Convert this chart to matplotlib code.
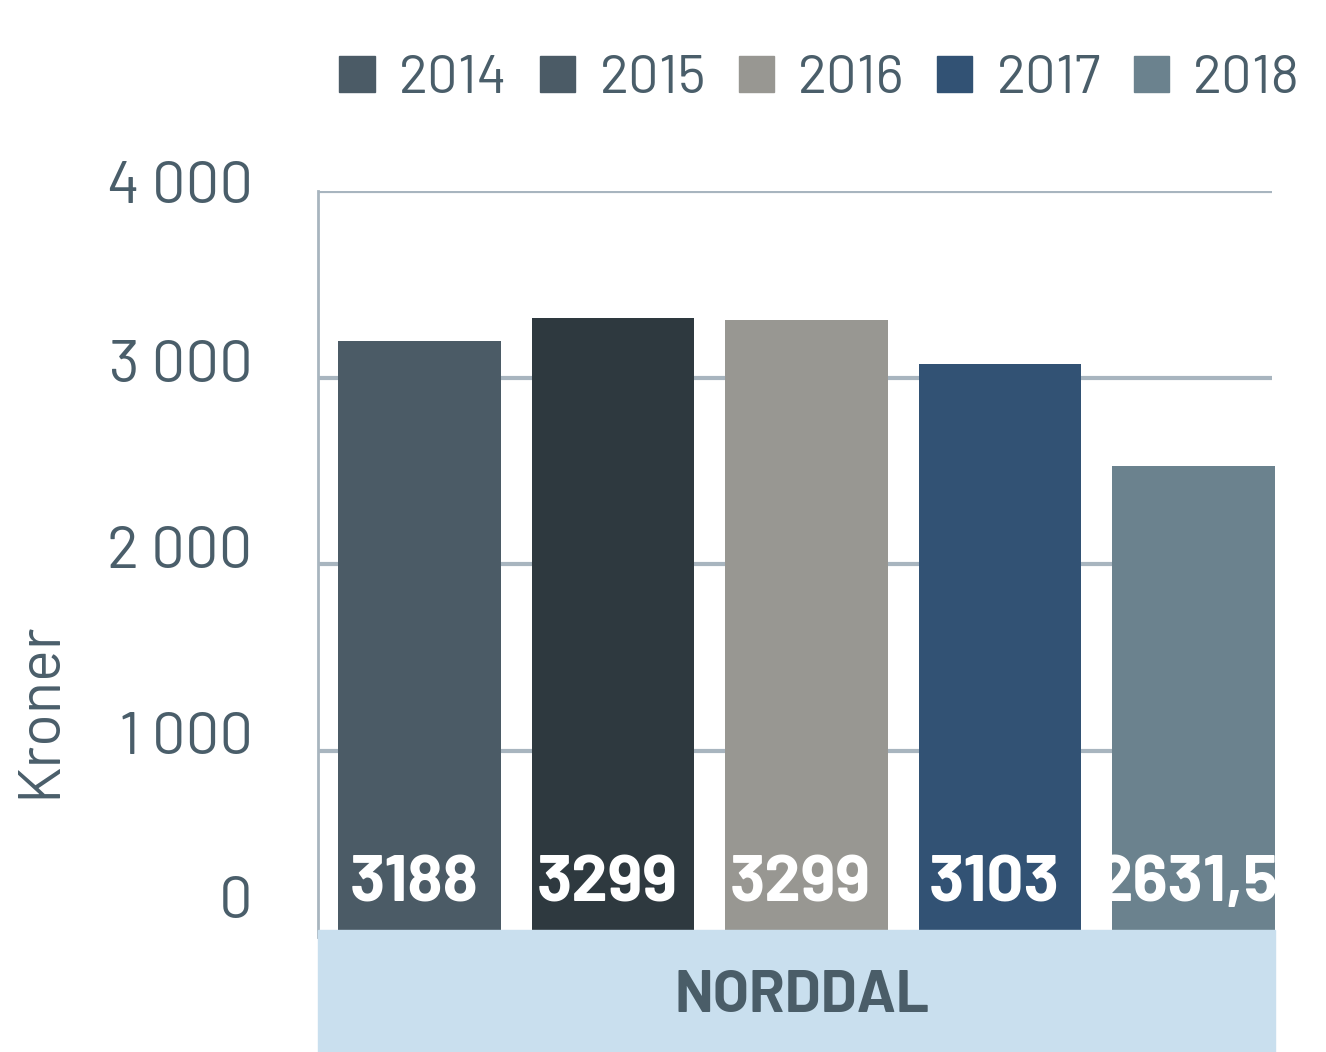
import matplotlib
matplotlib.use("Agg")
import matplotlib.pyplot as plt
from matplotlib.patches import Patch, Rectangle
from matplotlib.transforms import ScaledTranslation

# data
years = ["2014", "2015", "2016", "2017", "2018"]
bar_values = [3194, 3317, 3306, 3075, 2527]        # heights as drawn
value_labels = ["3188", "3299", "3299", "3103", "2631,5"]
bar_colors = ["#4B5B66", "#2E393F", "#989792", "#325274", "#6B828E"]
legend_colors = ["#4B5B66", "#4B5B66", "#989792", "#325274", "#6B828E"]
yticks = [0, 1000, 2000, 3000, 4000]
ytick_labels = ["0", "1 000", "2 000", "3 000", "4 000"]
group = "NORDDAL"

plt.rcParams['font.family'] = ['Barlow', 'Barlow Semi Condensed',
                               'Roboto Condensed', 'DejaVu Sans']
txt = "#4A5E6A"
grid = "#A8B5BF"

W, H = 1326, 1052
fig = plt.figure(figsize=(W / 100, H / 100), dpi=100)
ax = fig.add_axes([318 / W, 1 - 937 / H, (1272 - 318) / W, (937 - 191) / H])

x = list(range(len(years)))
ax.bar(x, bar_values, width=0.84, color=bar_colors, zorder=3, clip_on=False)
ax.set_xlim(-0.525, 4.406)
ax.set_ylim(0, 4000)

for v in yticks[1:]:
    ax.axhline(v, color=grid, lw=3, zorder=1)
for s in ["top", "right", "bottom"]:
    ax.spines[s].set_visible(False)
ax.spines["left"].set_color(grid)
ax.spines["left"].set_linewidth(2)

ax.set_xticks([])
ax.set_yticks(yticks)
ax.set_yticklabels(ytick_labels, fontsize=43, color=txt)
ax.tick_params(axis="y", length=0, pad=47)
# labels sit a little above their gridlines in the original
for lab, dy in zip(ax.get_yticklabels(), [40, 18, 17, 17, 9]):
    lab.set_transform(lab.get_transform() + ScaledTranslation(0, dy / 100, fig.dpi_scale_trans))

for xi, lab in zip(x, value_labels):
    ax.text(xi - 0.03, 280, lab, ha="center", va="center", color="white",
            fontsize=47, fontweight="bold", zorder=5)

# band with category name
band = Rectangle((318 / W, 0), (1275 - 318) / W, (1052 - 930) / H,
                 transform=fig.transFigure, color="#C9DFEE", zorder=10)
fig.patches.append(band)
fig.text(802 / W, 1 - 997 / H, group, ha="center", va="center",
         fontsize=42, fontweight="bold", color="#4A5D68", zorder=11)

fig.text(40 / W, 1 - 710 / H, "Kroner", rotation=90, ha="center", va="center",
         fontsize=43, color=txt)

handles = [Patch(color=c) for c in legend_colors]
fig.legend(handles, years, ncol=5, frameon=False, loc="upper right",
           bbox_to_anchor=(1300 / W, 1 - 55 / H),
           prop={"size": 39},
           handlelength=0.65, handleheight=0.65, handletextpad=0.45,
           columnspacing=0.6, labelcolor=txt, borderaxespad=0, borderpad=0)

fig.savefig("out.png", dpi=100)
